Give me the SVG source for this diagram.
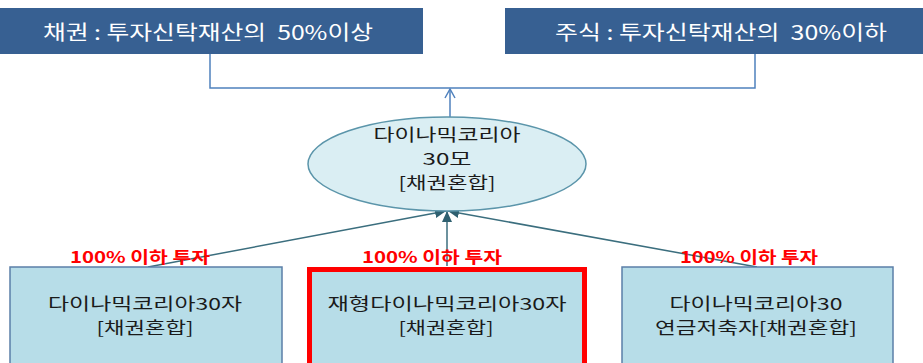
<svg xmlns="http://www.w3.org/2000/svg" width="923" height="363" viewBox="0 0 923 363">
<style>
text{font-family:"Noto Sans CJK KR","Noto Sans",sans-serif}
.hdr{fill:#376092}
.ht{fill:#ffffff;font-size:20px;text-anchor:middle}
.box{fill:#b7dde8;stroke:#5b7fa8;stroke-width:1.5}
.bt{fill:#1a1a1a;font-size:16.5px;text-anchor:middle}
.lbl{fill:#ff0000;font-size:16px;font-weight:bold;text-anchor:middle}
.blue{fill:none;stroke:#4f81bd;stroke-width:1.5}
.teal{fill:none;stroke:#3b6e7e;stroke-width:1.5}
</style>
<defs>
<marker id="open" markerWidth="14" markerHeight="12" refX="10" refY="6" orient="auto" markerUnits="userSpaceOnUse">
<path d="M1,1 L10,6 L1,11" fill="none" stroke="#4f81bd" stroke-width="1.5"/>
</marker>
<marker id="solid" markerWidth="12" markerHeight="10" refX="11" refY="5" orient="auto" markerUnits="userSpaceOnUse">
<path d="M0,0 L11,5 L0,10 Z" fill="#2f6070"/>
</marker>
</defs>
<g id="connectors">
<polyline class="blue" points="210,54 210,88 755,88 755,54"/>
<line class="blue" x1="450" y1="117" x2="450" y2="89" marker-end="url(#open)"/>
<line class="teal" x1="148" y1="267" x2="446" y2="211" marker-end="url(#solid)"/>
<line class="teal" x1="447" y1="266" x2="447" y2="211" marker-end="url(#solid)"/>
<line class="teal" x1="757" y1="267" x2="448" y2="211" marker-end="url(#solid)"/>
</g>
<g id="bond">
<rect class="hdr" x="0" y="8" width="423" height="46"/>
<text class="ht" x="208" y="40" xml:space="preserve" textLength="330" lengthAdjust="spacingAndGlyphs">채권 : 투자신탁재산의  50%이상</text>
</g>
<g id="stock">
<rect class="hdr" x="505" y="8" width="418" height="46"/>
<text class="ht" x="721" y="40" xml:space="preserve" textLength="332" lengthAdjust="spacingAndGlyphs">주식 : 투자신탁재산의  30%이하</text>
</g>
<g id="mother">
<ellipse cx="447" cy="164" rx="139" ry="47" fill="#daeef3" stroke="#5b95aa" stroke-width="1.5"/>
<text class="bt" x="447" y="141" textLength="147" lengthAdjust="spacingAndGlyphs">다이나믹코리아</text>
<text class="bt" x="447" y="165" textLength="49" lengthAdjust="spacingAndGlyphs">30모</text>
<text class="bt" x="447" y="189" textLength="97" lengthAdjust="spacingAndGlyphs">[채권혼합]</text>
</g>
<g id="child1">
<rect class="box" x="10" y="267" width="272" height="110"/>
<text class="lbl" x="140" y="263" textLength="140" lengthAdjust="spacingAndGlyphs">100% 이하 투자</text>
<text class="bt" x="145" y="310" textLength="194" lengthAdjust="spacingAndGlyphs">다이나믹코리아30자</text>
<text class="bt" x="145" y="334" textLength="97" lengthAdjust="spacingAndGlyphs">[채권혼합]</text>
</g>
<g id="child2">
<rect class="box" x="310" y="269.5" width="275" height="110"/>
<rect x="309.5" y="269.5" width="275" height="110" fill="none" stroke="#ff0000" stroke-width="5"/>
<text class="lbl" x="432" y="263" textLength="140" lengthAdjust="spacingAndGlyphs">100% 이하 투자</text>
<text class="bt" x="447" y="310" textLength="239" lengthAdjust="spacingAndGlyphs">재형다이나믹코리아30자</text>
<text class="bt" x="446" y="334" textLength="95" lengthAdjust="spacingAndGlyphs">[채권혼합]</text>
</g>
<g id="child3">
<rect class="box" x="622" y="267" width="271" height="110"/>
<text class="lbl" x="749" y="263" textLength="138" lengthAdjust="spacingAndGlyphs">100% 이하 투자</text>
<text class="bt" x="756" y="310" textLength="173" lengthAdjust="spacingAndGlyphs">다이나믹코리아30</text>
<text class="bt" x="756" y="334" textLength="202" lengthAdjust="spacingAndGlyphs">연금저축자[채권혼합]</text>
</g>
</svg>
